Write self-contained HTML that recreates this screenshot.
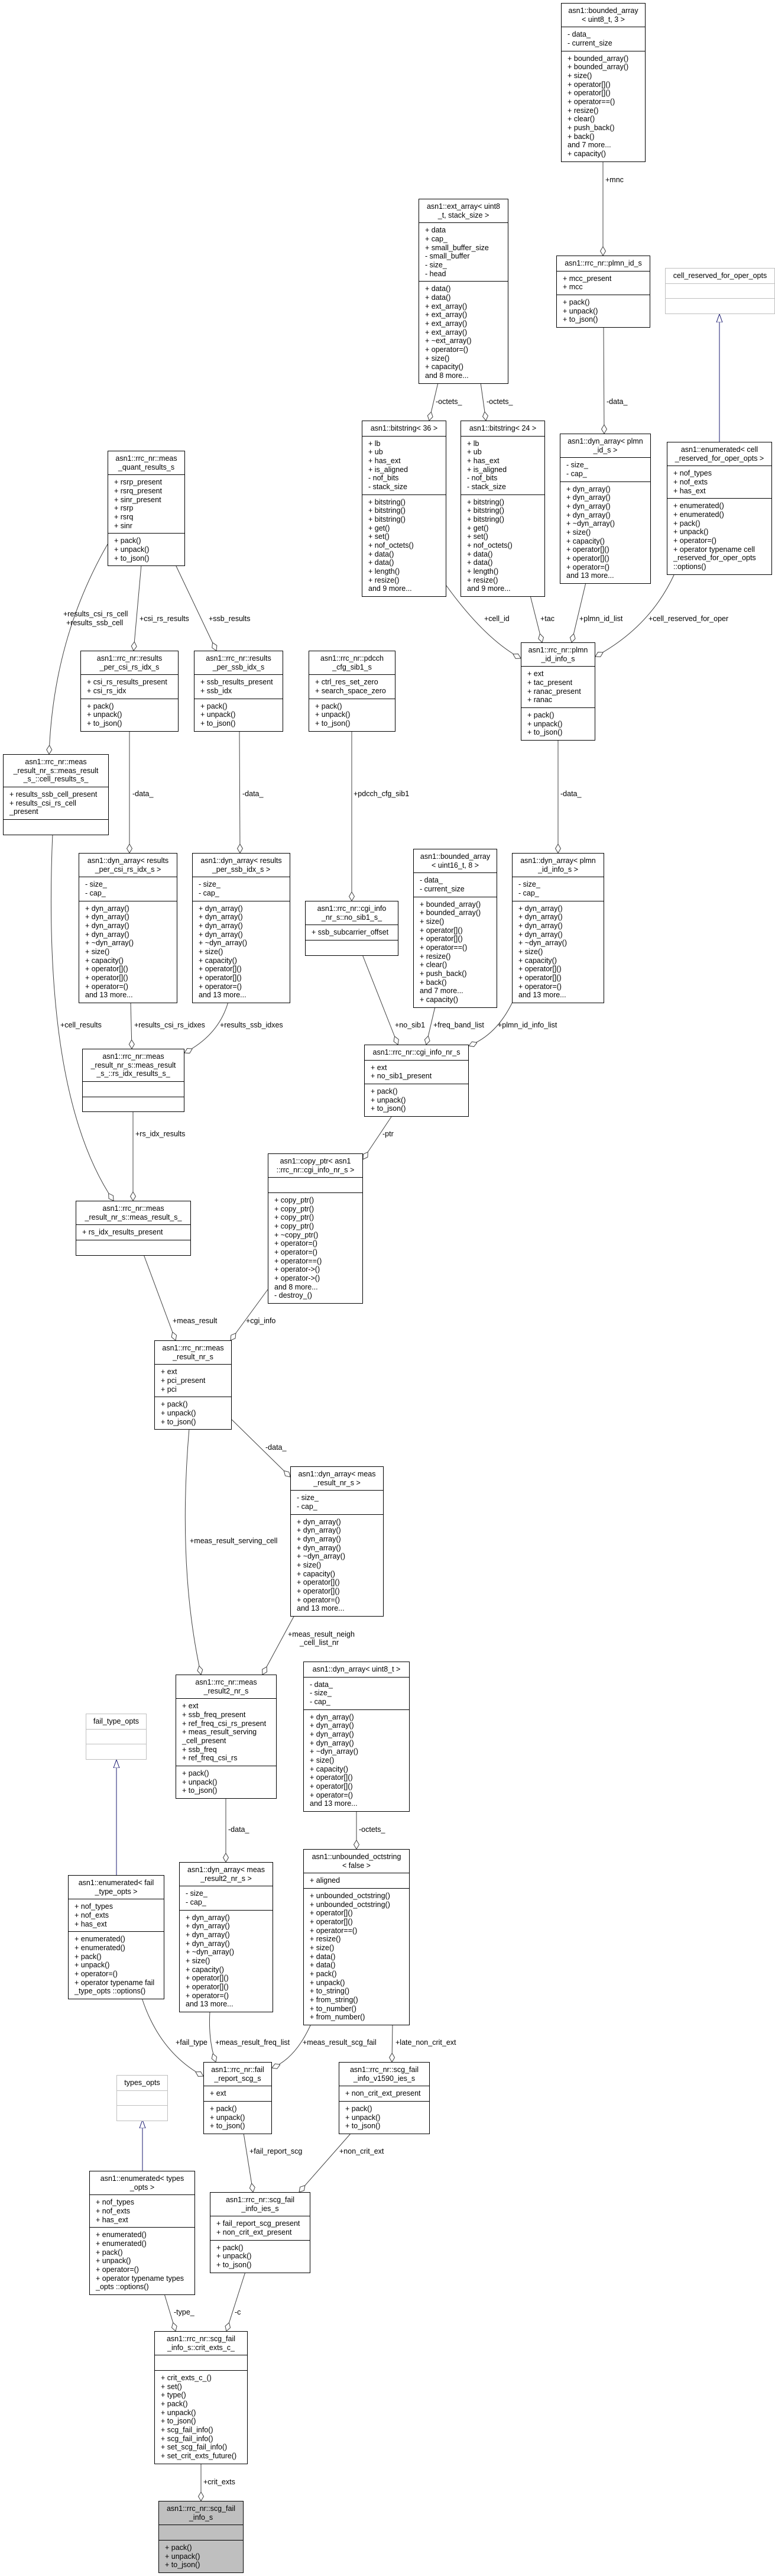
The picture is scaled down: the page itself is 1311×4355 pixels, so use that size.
<!DOCTYPE html>
<html><head><meta charset="utf-8"><style>
html,body{margin:0;padding:0;background:#fff;}
body{width:1311px;height:4355px;position:relative;overflow:hidden;}
.b{position:absolute;border:1px solid #000;background:#fff;font:12.5px "Liberation Sans",sans-serif;line-height:14.67px;box-sizing:border-box;white-space:nowrap;color:#000}
.b>div{padding:5px 3px 5px 10px;border-top:1px solid #000;}
.b>div:first-child{border-top:none;text-align:center;padding-left:3px}
.g{border-color:#bfbfbf}.g>div{border-top-color:#bfbfbf}
.f{background:#bfbfbf}
svg{position:absolute;left:0;top:0}
svg text{font:12.5px "Liberation Sans",sans-serif;fill:#000}
</style></head><body>
<svg width="1311" height="4355">
<defs>
<marker id="d" markerUnits="userSpaceOnUse" markerWidth="18" markerHeight="12" refX="15" refY="5" orient="auto"><path d="M0,5 L7.5,0.5 L15,5 L7.5,9.5 Z" fill="#fff" stroke="#404040"/></marker>
<marker id="t" markerUnits="userSpaceOnUse" markerWidth="16" markerHeight="14" refX="14" refY="6" orient="auto"><path d="M0,1 L14,6 L0,11 Z" fill="#fff" stroke="#191970"/></marker>
</defs>
<g fill="none" stroke="#404040" stroke-width="1" marker-end="url(#d)">
<path d="M1020,273 L1020,432"/>
<path d="M741,647 L726,711"/>
<path d="M813,647 L822,711"/>
<path d="M1021,551 L1022,733"/>
<path d="M182,920 Q90,1080 83,1275"/>
<path d="M239,955 L226,1100"/>
<path d="M297,955 L366,1100"/>
<path d="M755,990 Q820,1080 881,1113"/>
<path d="M897,1007 L917,1086"/>
<path d="M991,985 L967,1086"/>
<path d="M1141,970 Q1100,1060 1007,1110"/>
<path d="M219,1235 L219,1442"/>
<path d="M405,1235 L406,1442"/>
<path d="M595,1235 L595,1523"/>
<path d="M944,1249 L944,1442"/>
<path d="M221,1694 L223,1773"/>
<path d="M386,1694 Q370,1750 312,1780"/>
<path d="M89,1409 Q70,1850 192,2030"/>
<path d="M225,1878 L225,2030"/>
<path d="M613,1614 L673,1766"/>
<path d="M736,1702 L721,1766"/>
<path d="M867,1694 Q840,1750 793,1768"/>
<path d="M664,1885 L614,1960"/>
<path d="M243,2121 L297,2266"/>
<path d="M453,2180 L390,2266"/>
<path d="M392,2400 L491,2497"/>
<path d="M320,2415 Q300,2650 340,2831"/>
<path d="M498,2731 L444,2831"/>
<path d="M382,3040 L382,3148"/>
<path d="M603,3062 L603,3126"/>
<path d="M240,3378 Q270,3470 344,3510"/>
<path d="M355,3400 Q352,3450 365,3486"/>
<path d="M526,3422 Q500,3480 460,3496"/>
<path d="M664,3422 L663,3486"/>
<path d="M412,3606 L428,3706"/>
<path d="M594,3606 L506,3706"/>
<path d="M278,3878 L297,3941"/>
<path d="M415,3841 L383,3941"/>
<path d="M340,4164 L340,4228"/>
</g>
<g fill="none" stroke="#191970" stroke-width="1" marker-end="url(#t)">
<path d="M1217,747 L1217,531"/>
<path d="M197,3170 L197,2975"/>
<path d="M241,3670 L241,3584"/>
</g>
<text x="1024" y="308">+mnc</text>
<text x="737" y="683">-octets_</text>
<text x="823" y="683">-octets_</text>
<text x="1026" y="683">-data_</text>
<text x="107" y="1042">+results_csi_rs_cell</text>
<text x="112" y="1057">+results_ssb_cell</text>
<text x="236" y="1050">+csi_rs_results</text>
<text x="353" y="1050">+ssb_results</text>
<text x="819" y="1050">+cell_id</text>
<text x="914" y="1050">+tac</text>
<text x="980" y="1050">+plmn_id_list</text>
<text x="1097" y="1050">+cell_reserved_for_oper</text>
<text x="224" y="1346">-data_</text>
<text x="410" y="1346">-data_</text>
<text x="598" y="1346">+pdcch_cfg_sib1</text>
<text x="948" y="1346">-data_</text>
<text x="102" y="1737">+cell_results</text>
<text x="227" y="1737">+results_csi_rs_idxes</text>
<text x="372" y="1737">+results_ssb_idxes</text>
<text x="668" y="1737">+no_sib1</text>
<text x="733" y="1737">+freq_band_list</text>
<text x="842" y="1737">+plmn_id_info_list</text>
<text x="229" y="1921">+rs_idx_results</text>
<text x="647" y="1921">-ptr</text>
<text x="292" y="2237">+meas_result</text>
<text x="416" y="2237">+cgi_info</text>
<text x="449" y="2451">-data_</text>
<text x="321" y="2609">+meas_result_serving_cell</text>
<text x="487" y="2767">+meas_result_neigh</text>
<text x="507" y="2781">_cell_list_nr</text>
<text x="386" y="3097">-data_</text>
<text x="607" y="3097">-octets_</text>
<text x="297" y="3457">+fail_type</text>
<text x="364" y="3457">+meas_result_freq_list</text>
<text x="512" y="3457">+meas_result_scg_fail</text>
<text x="669" y="3457">+late_non_crit_ext</text>
<text x="422" y="3641">+fail_report_scg</text>
<text x="574" y="3641">+non_crit_ext</text>
<text x="294" y="3913">-type_</text>
<text x="397" y="3913">-c</text>
<text x="344" y="4200">+crit_exts</text>
</svg>

<div class="b" style="left:949px;top:5px;width:143px"><div>asn1::bounded_array<br>&lt; uint8_t, 3 &gt;</div><div>- data_<br>- current_size</div><div>+ bounded_array()<br>+ bounded_array()<br>+ size()<br>+ operator[]()<br>+ operator[]()<br>+ operator==()<br>+ resize()<br>+ clear()<br>+ push_back()<br>+ back()<br>and 7 more...<br>+ capacity()</div></div>

<div class="b" style="left:708px;top:336px;width:152px"><div>asn1::ext_array&lt; uint8<br>_t, stack_size &gt;</div><div>+ data<br>+ cap_<br>+ small_buffer_size<br>- small_buffer<br>- size_<br>- head</div><div>+ data()<br>+ data()<br>+ ext_array()<br>+ ext_array()<br>+ ext_array()<br>+ ext_array()<br>+ ~ext_array()<br>+ operator=()<br>+ size()<br>+ capacity()<br>and 8 more...</div></div>

<div class="b" style="left:941px;top:432px;width:159px"><div>asn1::rrc_nr::plmn_id_s</div><div>+ mcc_present<br>+ mcc</div><div>+ pack()<br>+ unpack()<br>+ to_json()</div></div>

<div class="b g" style="left:1125px;top:453px;width:186px"><div>cell_reserved_for_oper_opts</div><div>&nbsp;</div><div>&nbsp;</div></div>

<div class="b" style="left:612px;top:711px;width:143px"><div>asn1::bitstring&lt; 36 &gt;</div><div>+ lb<br>+ ub<br>+ has_ext<br>+ is_aligned<br>- nof_bits<br>- stack_size</div><div>+ bitstring()<br>+ bitstring()<br>+ bitstring()<br>+ get()<br>+ set()<br>+ nof_octets()<br>+ data()<br>+ data()<br>+ length()<br>+ resize()<br>and 9 more...</div></div>

<div class="b" style="left:779px;top:711px;width:143px"><div>asn1::bitstring&lt; 24 &gt;</div><div>+ lb<br>+ ub<br>+ has_ext<br>+ is_aligned<br>- nof_bits<br>- stack_size</div><div>+ bitstring()<br>+ bitstring()<br>+ bitstring()<br>+ get()<br>+ set()<br>+ nof_octets()<br>+ data()<br>+ data()<br>+ length()<br>+ resize()<br>and 9 more...</div></div>

<div class="b" style="left:947px;top:733px;width:154px"><div>asn1::dyn_array&lt; plmn<br>_id_s &gt;</div><div>- size_<br>- cap_</div><div>+ dyn_array()<br>+ dyn_array()<br>+ dyn_array()<br>+ dyn_array()<br>+ ~dyn_array()<br>+ size()<br>+ capacity()<br>+ operator[]()<br>+ operator[]()<br>+ operator=()<br>and 13 more...</div></div>

<div class="b" style="left:1128px;top:747px;width:178px"><div>asn1::enumerated&lt; cell<br>_reserved_for_oper_opts &gt;</div><div>+ nof_types<br>+ nof_exts<br>+ has_ext</div><div>+ enumerated()<br>+ enumerated()<br>+ pack()<br>+ unpack()<br>+ operator=()<br>+ operator typename cell<br>_reserved_for_oper_opts<br>::options()</div></div>

<div class="b" style="left:182px;top:762px;width:131px"><div>asn1::rrc_nr::meas<br>_quant_results_s</div><div>+ rsrp_present<br>+ rsrq_present<br>+ sinr_present<br>+ rsrp<br>+ rsrq<br>+ sinr</div><div>+ pack()<br>+ unpack()<br>+ to_json()</div></div>

<div class="b" style="left:136px;top:1100px;width:166px"><div>asn1::rrc_nr::results<br>_per_csi_rs_idx_s</div><div>+ csi_rs_results_present<br>+ csi_rs_idx</div><div>+ pack()<br>+ unpack()<br>+ to_json()</div></div>

<div class="b" style="left:328px;top:1100px;width:151px"><div>asn1::rrc_nr::results<br>_per_ssb_idx_s</div><div>+ ssb_results_present<br>+ ssb_idx</div><div>+ pack()<br>+ unpack()<br>+ to_json()</div></div>

<div class="b" style="left:522px;top:1100px;width:147px"><div>asn1::rrc_nr::pdcch<br>_cfg_sib1_s</div><div>+ ctrl_res_set_zero<br>+ search_space_zero</div><div>+ pack()<br>+ unpack()<br>+ to_json()</div></div>

<div class="b" style="left:881px;top:1086px;width:126px"><div>asn1::rrc_nr::plmn<br>_id_info_s</div><div>+ ext<br>+ tac_present<br>+ ranac_present<br>+ ranac</div><div>+ pack()<br>+ unpack()<br>+ to_json()</div></div>

<div class="b" style="left:5px;top:1275px;width:179px"><div>asn1::rrc_nr::meas<br>_result_nr_s::meas_result<br>_s_::cell_results_s_</div><div>+ results_ssb_cell_present<br>+ results_csi_rs_cell<br>_present</div><div>&nbsp;</div></div>

<div class="b" style="left:133px;top:1442px;width:167px"><div>asn1::dyn_array&lt; results<br>_per_csi_rs_idx_s &gt;</div><div>- size_<br>- cap_</div><div>+ dyn_array()<br>+ dyn_array()<br>+ dyn_array()<br>+ dyn_array()<br>+ ~dyn_array()<br>+ size()<br>+ capacity()<br>+ operator[]()<br>+ operator[]()<br>+ operator=()<br>and 13 more...</div></div>

<div class="b" style="left:325px;top:1442px;width:166px"><div>asn1::dyn_array&lt; results<br>_per_ssb_idx_s &gt;</div><div>- size_<br>- cap_</div><div>+ dyn_array()<br>+ dyn_array()<br>+ dyn_array()<br>+ dyn_array()<br>+ ~dyn_array()<br>+ size()<br>+ capacity()<br>+ operator[]()<br>+ operator[]()<br>+ operator=()<br>and 13 more...</div></div>

<div class="b" style="left:516px;top:1523px;width:158px"><div>asn1::rrc_nr::cgi_info<br>_nr_s::no_sib1_s_</div><div>+ ssb_subcarrier_offset</div><div>&nbsp;</div></div>

<div class="b" style="left:699px;top:1435px;width:142px"><div>asn1::bounded_array<br>&lt; uint16_t, 8 &gt;</div><div>- data_<br>- current_size</div><div>+ bounded_array()<br>+ bounded_array()<br>+ size()<br>+ operator[]()<br>+ operator[]()<br>+ operator==()<br>+ resize()<br>+ clear()<br>+ push_back()<br>+ back()<br>and 7 more...<br>+ capacity()</div></div>

<div class="b" style="left:866px;top:1442px;width:156px"><div>asn1::dyn_array&lt; plmn<br>_id_info_s &gt;</div><div>- size_<br>- cap_</div><div>+ dyn_array()<br>+ dyn_array()<br>+ dyn_array()<br>+ dyn_array()<br>+ ~dyn_array()<br>+ size()<br>+ capacity()<br>+ operator[]()<br>+ operator[]()<br>+ operator=()<br>and 13 more...</div></div>

<div class="b" style="left:616px;top:1766px;width:177px"><div>asn1::rrc_nr::cgi_info_nr_s</div><div>+ ext<br>+ no_sib1_present</div><div>+ pack()<br>+ unpack()<br>+ to_json()</div></div>

<div class="b" style="left:139px;top:1773px;width:173px"><div>asn1::rrc_nr::meas<br>_result_nr_s::meas_result<br>_s_::rs_idx_results_s_</div><div>&nbsp;</div><div>&nbsp;</div></div>

<div class="b" style="left:453px;top:1950px;width:161px"><div>asn1::copy_ptr&lt; asn1<br>::rrc_nr::cgi_info_nr_s &gt;</div><div>&nbsp;</div><div>+ copy_ptr()<br>+ copy_ptr()<br>+ copy_ptr()<br>+ copy_ptr()<br>+ ~copy_ptr()<br>+ operator=()<br>+ operator=()<br>+ operator==()<br>+ operator-&gt;()<br>+ operator-&gt;()<br>and 8 more...<br>- destroy_()</div></div>

<div class="b" style="left:128px;top:2030px;width:195px"><div>asn1::rrc_nr::meas<br>_result_nr_s::meas_result_s_</div><div>+ rs_idx_results_present</div><div>&nbsp;</div></div>

<div class="b" style="left:261px;top:2266px;width:131px"><div>asn1::rrc_nr::meas<br>_result_nr_s</div><div>+ ext<br>+ pci_present<br>+ pci</div><div>+ pack()<br>+ unpack()<br>+ to_json()</div></div>

<div class="b" style="left:491px;top:2479px;width:158px"><div>asn1::dyn_array&lt; meas<br>_result_nr_s &gt;</div><div>- size_<br>- cap_</div><div>+ dyn_array()<br>+ dyn_array()<br>+ dyn_array()<br>+ dyn_array()<br>+ ~dyn_array()<br>+ size()<br>+ capacity()<br>+ operator[]()<br>+ operator[]()<br>+ operator=()<br>and 13 more...</div></div>

<div class="b" style="left:297px;top:2831px;width:171px"><div>asn1::rrc_nr::meas<br>_result2_nr_s</div><div>+ ext<br>+ ssb_freq_present<br>+ ref_freq_csi_rs_present<br>+ meas_result_serving<br>_cell_present<br>+ ssb_freq<br>+ ref_freq_csi_rs</div><div>+ pack()<br>+ unpack()<br>+ to_json()</div></div>

<div class="b" style="left:513px;top:2809px;width:180px"><div>asn1::dyn_array&lt; uint8_t &gt;</div><div>- data_<br>- size_<br>- cap_</div><div>+ dyn_array()<br>+ dyn_array()<br>+ dyn_array()<br>+ dyn_array()<br>+ ~dyn_array()<br>+ size()<br>+ capacity()<br>+ operator[]()<br>+ operator[]()<br>+ operator=()<br>and 13 more...</div></div>

<div class="b g" style="left:145px;top:2897px;width:103px"><div>fail_type_opts</div><div>&nbsp;</div><div>&nbsp;</div></div>

<div class="b" style="left:303px;top:3148px;width:159px"><div>asn1::dyn_array&lt; meas<br>_result2_nr_s &gt;</div><div>- size_<br>- cap_</div><div>+ dyn_array()<br>+ dyn_array()<br>+ dyn_array()<br>+ dyn_array()<br>+ ~dyn_array()<br>+ size()<br>+ capacity()<br>+ operator[]()<br>+ operator[]()<br>+ operator=()<br>and 13 more...</div></div>

<div class="b" style="left:513px;top:3126px;width:180px"><div>asn1::unbounded_octstring<br>&lt; false &gt;</div><div>+ aligned</div><div>+ unbounded_octstring()<br>+ unbounded_octstring()<br>+ operator[]()<br>+ operator[]()<br>+ operator==()<br>+ resize()<br>+ size()<br>+ data()<br>+ data()<br>+ pack()<br>+ unpack()<br>+ to_string()<br>+ from_string()<br>+ to_number()<br>+ from_number()</div></div>

<div class="b" style="left:115px;top:3170px;width:163px"><div>asn1::enumerated&lt; fail<br>_type_opts &gt;</div><div>+ nof_types<br>+ nof_exts<br>+ has_ext</div><div>+ enumerated()<br>+ enumerated()<br>+ pack()<br>+ unpack()<br>+ operator=()<br>+ operator typename fail<br>_type_opts ::options()</div></div>

<div class="b" style="left:344px;top:3486px;width:116px"><div>asn1::rrc_nr::fail<br>_report_scg_s</div><div>+ ext</div><div>+ pack()<br>+ unpack()<br>+ to_json()</div></div>

<div class="b" style="left:573px;top:3486px;width:154px"><div>asn1::rrc_nr::scg_fail<br>_info_v1590_ies_s</div><div>+ non_crit_ext_present</div><div>+ pack()<br>+ unpack()<br>+ to_json()</div></div>

<div class="b g" style="left:197px;top:3508px;width:87px"><div>types_opts</div><div>&nbsp;</div><div>&nbsp;</div></div>

<div class="b" style="left:151px;top:3670px;width:179px"><div>asn1::enumerated&lt; types<br>_opts &gt;</div><div>+ nof_types<br>+ nof_exts<br>+ has_ext</div><div>+ enumerated()<br>+ enumerated()<br>+ pack()<br>+ unpack()<br>+ operator=()<br>+ operator typename types<br>_opts ::options()</div></div>

<div class="b" style="left:355px;top:3706px;width:170px"><div>asn1::rrc_nr::scg_fail<br>_info_ies_s</div><div>+ fail_report_scg_present<br>+ non_crit_ext_present</div><div>+ pack()<br>+ unpack()<br>+ to_json()</div></div>

<div class="b" style="left:261px;top:3941px;width:158px"><div>asn1::rrc_nr::scg_fail<br>_info_s::crit_exts_c_</div><div>&nbsp;</div><div>+ crit_exts_c_()<br>+ set()<br>+ type()<br>+ pack()<br>+ unpack()<br>+ to_json()<br>+ scg_fail_info()<br>+ scg_fail_info()<br>+ set_scg_fail_info()<br>+ set_crit_exts_future()</div></div>

<div class="b f" style="left:268px;top:4228px;width:144px"><div>asn1::rrc_nr::scg_fail<br>_info_s</div><div>&nbsp;</div><div>+ pack()<br>+ unpack()<br>+ to_json()</div></div>

</body></html>
